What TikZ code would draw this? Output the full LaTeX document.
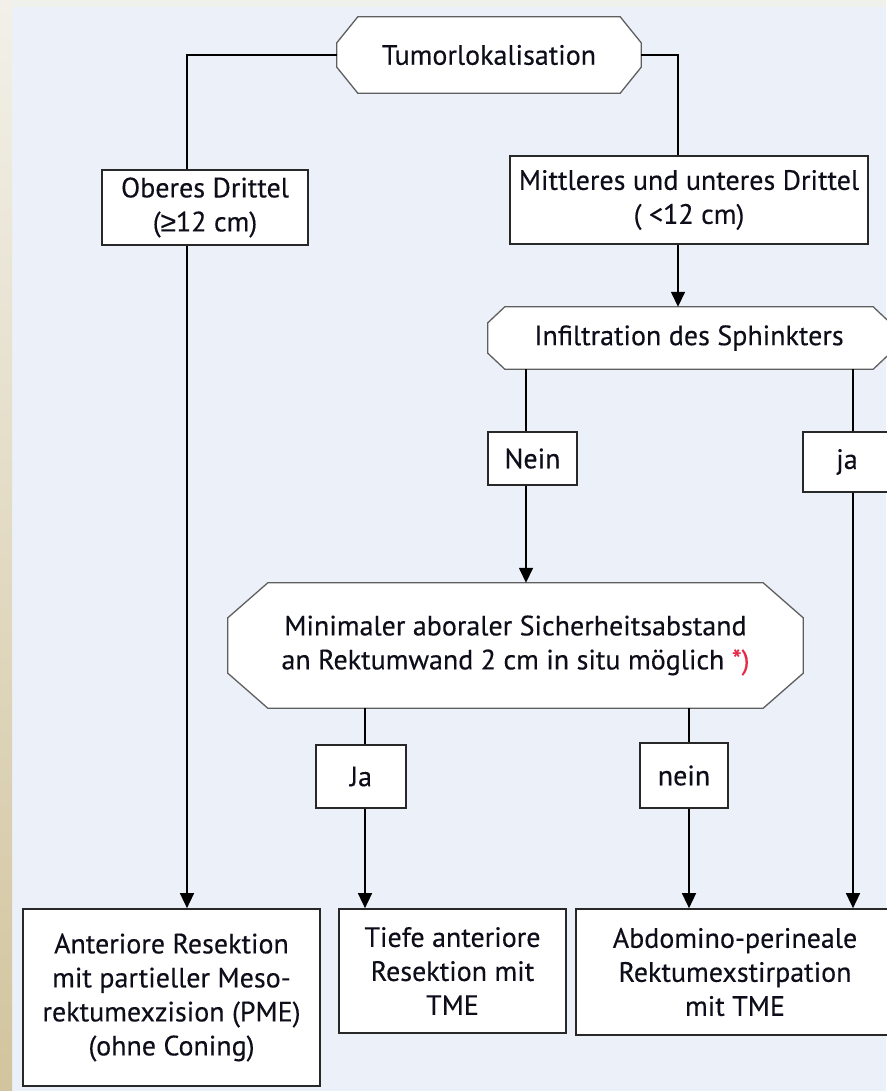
\documentclass[tikz,border=0pt]{standalone}
\usepackage{fontspec}
\setmainfont{PT Sans}[FakeBold=0.3]
\newfontfamily\symfont{Liberation Sans}[FakeBold=0.3]
\usetikzlibrary{arrows.meta}
\pgfdeclarelayer{back}
\pgfdeclarelayer{bg}
\pgfsetlayers{back,bg,main}
\definecolor{bgblue}{RGB}{236,241,249}
\definecolor{topgrey}{RGB}{240,240,237}
\definecolor{tantop}{RGB}{242,240,233}
\definecolor{tanbot}{RGB}{210,196,158}
\definecolor{boxline}{RGB}{40,40,40}
\definecolor{octgrey}{RGB}{95,95,95}
\definecolor{txt}{RGB}{14,14,26}
\definecolor{starred}{RGB}{232,40,70}
\newcommand\diagfont{\fontsize{28}{34}\selectfont}
\newcommand\octagonpath[3]{%
  \begin{pgfonlayer}{bg}
  \filldraw[octline] ([xshift=#2]#1.north west) -- ([xshift=-#2]#1.north east)
    -- ([yshift=-#3]#1.north east) -- ([yshift=#3]#1.south east)
    -- ([xshift=-#2]#1.south east) -- ([xshift=#2]#1.south west)
    -- ([yshift=#3]#1.south west) -- ([yshift=-#3]#1.north west) -- cycle;
  \end{pgfonlayer}}
\begin{document}
\begin{tikzpicture}[x=1pt,y=-1pt,
  box/.style={draw=boxline, line width=1.7pt, fill=white, align=center, inner sep=0pt, text=txt, font=\diagfont},
  octnode/.style={align=center, inner sep=0pt, text=txt, font=\diagfont},
  octline/.style={draw=octgrey, line width=1.3pt, fill=white},
  conn/.style={line width=1.5pt, draw=black},
  arr/.style={conn, -{Triangle[width=14pt,length=15pt]}}
]
\useasboundingbox (0,0) rectangle (886,1091);
\begin{pgfonlayer}{back}
  \fill[bgblue] (0,0) rectangle (886,1091);
  \fill[topgrey] (0,0) rectangle (886,7);
  \shade[top color=tantop, bottom color=tanbot] (0,0) rectangle (12,1091);
\end{pgfonlayer}

% octagon decision nodes
\node[octnode, minimum width=304pt, minimum height=76pt] (tumor) at (489,55) {Tumorlokalisation};
\octagonpath{tumor}{21}{26}
\node[octnode, minimum width=402pt, minimum height=62pt] (infil) at (689,338) {Infiltration des Sphinkters};
\octagonpath{infil}{17}{16}
\node[octnode, minimum width=575pt, minimum height=125pt] (minimal) at (515.5,645.5)
  {Minimaler aboraler Sicherheitsabstand\\an Rektumwand 2 cm in situ möglich \textcolor{starred}{*)}};
\octagonpath{minimal}{40}{35}

% rectangular boxes
\node[box, minimum width=206pt, minimum height=75pt] (oberes) at (205,207.5) {Oberes Drittel\\({\symfont ≥}12 cm)};
\node[box, minimum width=358pt, minimum height=88pt] (mittleres) at (689,200) {Mittleres und unteres Drittel\\( <12 cm)};
\node[box, minimum width=89pt, minimum height=53pt] (nein1) at (532.5,458.5) {Nein};
\node[box, minimum width=88pt, minimum height=60pt] (ja1) at (847,462) {ja};
\node[box, minimum width=90pt, minimum height=63pt] (ja2) at (361,776.5) {Ja};
\node[box, minimum width=88pt, minimum height=65pt] (nein2) at (684,775.5) {nein};
\node[box, minimum width=297pt, minimum height=177pt] (anterior) at (171.5,997.5)
  {Anteriore Resektion\\mit partieller Meso-\\rektumexzision (PME)\\(ohne Coning)};
\node[box, minimum width=227pt, minimum height=124pt] (tiefe) at (452.5,971)
  {Tiefe anteriore\\Resektion mit\\TME};
\node[box, minimum width=318pt, minimum height=126pt] (abdomino) at (735,972)
  {Abdomino-perineale\\Rektumexstirpation\\mit TME};

% connectors
\draw[conn] (tumor.west) -| ([xshift=-18]oberes.north);
\draw[conn] (tumor.east) -| ([xshift=-11]mittleres.north);
\draw[arr] ([xshift=-11]mittleres.south) -- ([xshift=-11]infil.north);
\draw[conn] ([xshift=-6.5]nein1.north |- infil.south) -- ([xshift=-6.5]nein1.north);
\draw[arr] ([xshift=-6.5]nein1.south) -- ([xshift=-6.5]nein1.south |- minimal.north);
\draw[conn] ([xshift=6]ja1.north |- infil.south) -- ([xshift=6]ja1.north);
\draw[arr] ([xshift=6]ja1.south) -- ([xshift=6]ja1.south |- abdomino.north);
\draw[arr] ([xshift=-18]oberes.south) -- ([xshift=-18]oberes.south |- anterior.north);
\draw[conn] ([xshift=4]ja2.north |- minimal.south) -- ([xshift=4]ja2.north);
\draw[arr] ([xshift=4]ja2.south) -- ([xshift=4]ja2.south |- tiefe.north);
\draw[conn] ([xshift=5]nein2.north |- minimal.south) -- ([xshift=5]nein2.north);
\draw[arr] ([xshift=5]nein2.south) -- ([xshift=5]nein2.south |- abdomino.north);
\end{tikzpicture}
\end{document}
